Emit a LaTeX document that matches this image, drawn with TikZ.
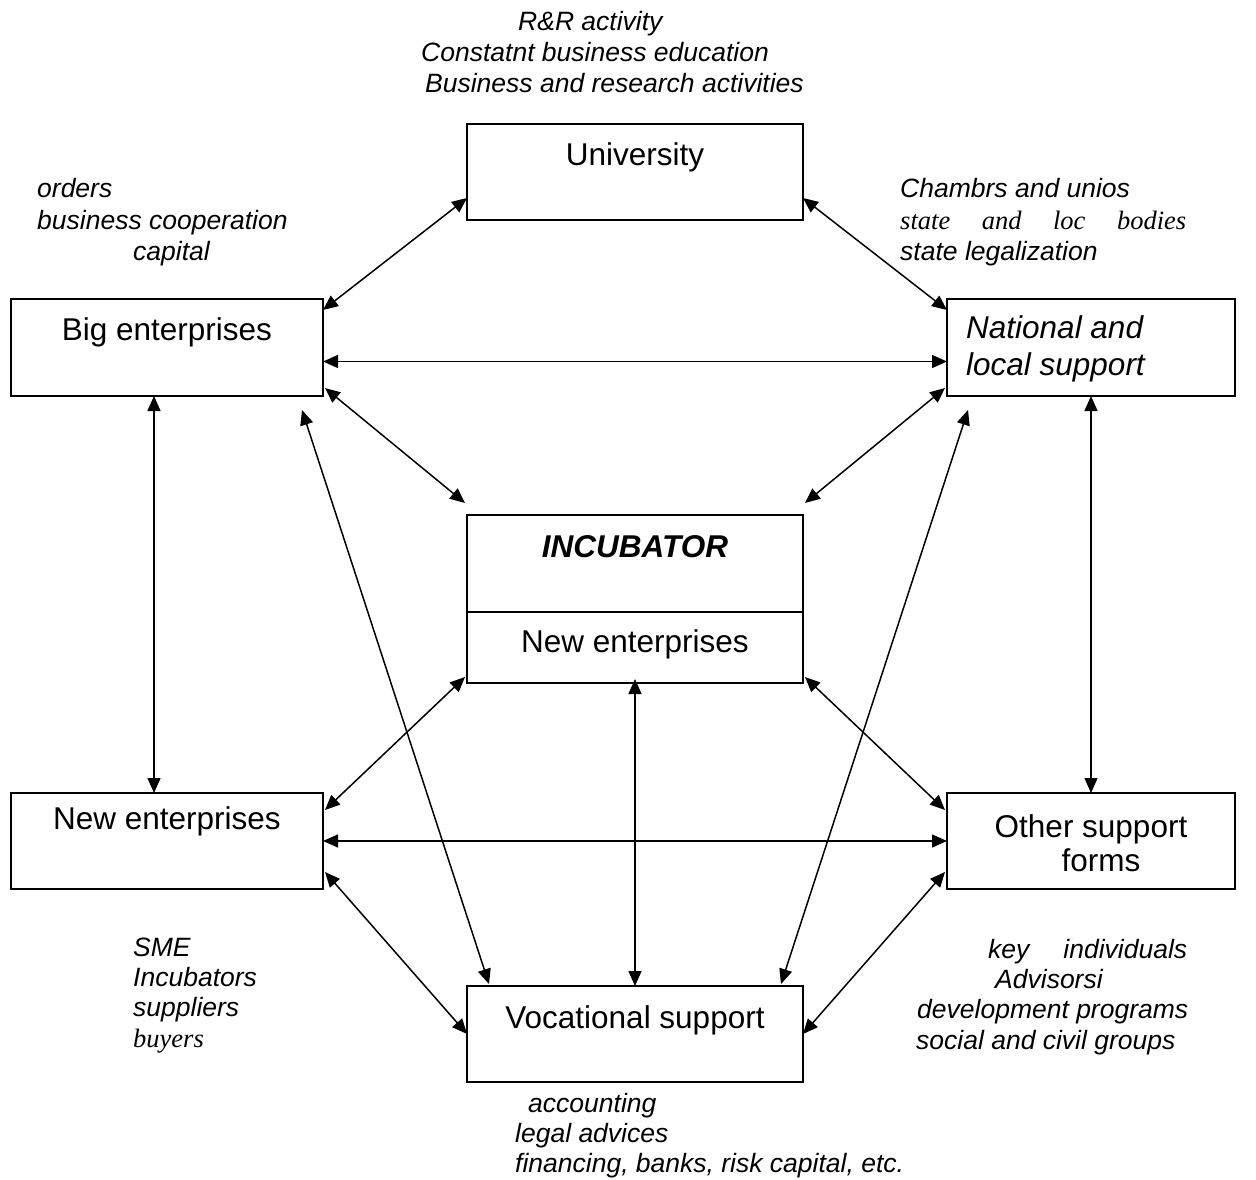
\documentclass[tikz,border=0pt]{standalone}
\usepackage{fontspec}
\setmainfont{Liberation Sans}
\newfontfamily\serfont{Liberation Serif}
\usetikzlibrary{arrows.meta,calc}
\begin{document}
\begin{tikzpicture}[x=1pt,y=-1pt,
  box/.style={draw, line width=2pt, inner sep=0pt, outer sep=0pt},
  boxtxt/.style={inner sep=0pt, anchor=base, font=\fontsize{31.5}{36}\selectfont},
  ann/.style={inner sep=0pt, anchor=base west, font=\fontsize{26.5}{31}\selectfont\itshape},
  conn/.style={line width=1.5pt, {Triangle[length=15pt,width=13pt]}-{Triangle[length=15pt,width=13pt]}}]
\useasboundingbox (0,0) rectangle (1256,1180);
\fill[white] (0,0) rectangle (1256,1180);
% boxes
\node[box, minimum width=336pt, minimum height=96pt] (uni) at (635,172) {};
\node[box, minimum width=312pt, minimum height=97pt] (big) at (167,347.5) {};
\node[box, minimum width=288pt, minimum height=97pt] (nat) at (1091,347.5) {};
\node[box, minimum width=336pt, minimum height=168pt] (inc) at (635,599) {};
\node[box, minimum width=312pt, minimum height=96pt] (newl) at (167,841) {};
\node[box, minimum width=288pt, minimum height=96pt] (oth) at (1091,841) {};
\node[box, minimum width=336pt, minimum height=96pt] (voc) at (635,1034) {};
\draw[line width=1.8pt] (inc.west |- 0,612) -- (inc.east |- 0,612);
% connectors
\draw[conn] ($(uni.south west)+(0,-22)$) -- ($(big.north east)+(0,11)$);
\draw[conn] ($(uni.south east)+(0,-22)$) -- ($(nat.north west)+(0,11)$);
\draw[conn] ($(big.east)+(0,14)$) -- ($(nat.west)+(0,14)$);
\draw[conn] ($(big.south east)+(2,-8)$) -- ($(inc.north west)+(-2,-12)$);
\draw[conn] ($(nat.south west)+(-2,-8)$) -- ($(inc.north east)+(2,-12)$);
\draw[conn] ($(big.south)+(-13,0)$) -- ($(newl.north)+(-13,0)$);
\draw[conn] (nat.south) -- (oth.north);
\draw[conn] ($(big.south east)+(-21,14)$) -- ($(voc.north west)+(22,-2)$);
\draw[conn] ($(nat.south west)+(21,14)$) -- ($(voc.north east)+(-22,-2)$);
\draw[conn] ($(inc.south west)+(-2,-6)$) -- ($(newl.north east)+(2,17)$);
\draw[conn] ($(inc.south east)+(2,-6)$) -- ($(oth.north west)+(-2,17)$);
\draw[conn] ($(inc.south)+(0,-4)$) -- (voc.north);
\draw[conn] (newl.east) -- (oth.west);
\draw[conn] ($(newl.south east)+(2,-17)$) -- (voc.west);
\draw[conn] ($(oth.south west)+(-2,-17)$) -- (voc.east);
% box texts
\node[boxtxt] (unit) at (635,165) {University};
\node[boxtxt] (bigt) at (167,340) {Big enterprises};
\node[boxtxt, anchor=base west, font=\fontsize{31.5}{36}\selectfont\itshape] (natt1) at (966,338) {National and};
\node[boxtxt, anchor=base west, font=\fontsize{31.5}{36}\selectfont\itshape] (natt2) at (966,375) {local support};
\node[boxtxt, font=\fontsize{31.5}{36}\selectfont\bfseries\itshape] (inct) at (635,557) {INCUBATOR};
\node[boxtxt] (newit) at (635,652) {New enterprises};
\node[boxtxt] (newlt) at (167,829) {New enterprises};
\node[boxtxt] (otht1) at (1091,837) {Other support};
\node[boxtxt] (otht2) at (1101,871) {forms};
\node[boxtxt] (voct) at (635,1028) {Vocational support};
% annotations
\node[ann] (a1) at (518,31) {R\&R activity};
\node[ann] (a2) at (421,62) {Constatnt business education};
\node[ann] (a3) at (425,93) {Business and research activities};
\node[ann] (b1) at (37,197) {orders};
\node[ann] (b2) at (37,229) {business cooperation};
\node[ann] (b3) at (133,260) {capital};
\node[ann] (c1) at (900,197) {Chambrs and unios};
\node[ann, font=\fontsize{26.5}{31}\selectfont\serfont\itshape] (c2) at (900,229) {\makebox[286pt][s]{state and loc bodies}};
\node[ann] (c3) at (900,260) {state legalization};
\node[ann] (d1) at (133,956) {SME};
\node[ann] (d2) at (133,986) {Incubators};
\node[ann] (d3) at (133,1016) {suppliers};
\node[ann, font=\fontsize{26.5}{31}\selectfont\serfont\itshape] (d4) at (133,1047) {buyers};
\node[ann] (e1) at (988,958) {\makebox[199pt][s]{key individuals}};
\node[ann] (e2) at (995,988) {Advisorsi};
\node[ann] (e3) at (917,1018) {development programs};
\node[ann] (e4) at (916,1049) {social and civil groups};
\node[ann] (f1) at (528,1112) {accounting};
\node[ann] (f2) at (515,1142) {legal advices};
\node[ann] (f3) at (515,1172) {financing, banks, risk capital, etc.};
\end{tikzpicture}
\end{document}
